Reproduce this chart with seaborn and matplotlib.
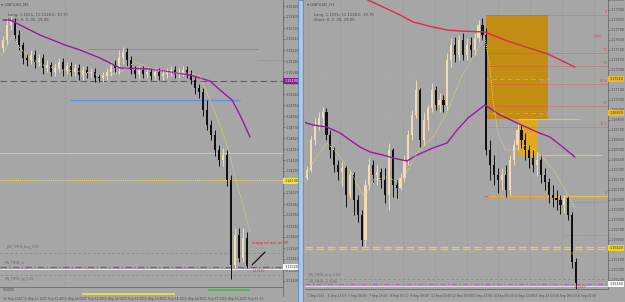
import numpy as np
import pandas as pd
import matplotlib
matplotlib.use("Agg")
import matplotlib.pyplot as plt
import matplotlib.transforms as mtrans
from matplotlib.patches import Rectangle
from matplotlib.ticker import MultipleLocator, FormatStrFormatter
import seaborn as sns

# ---------------- LEFT PANEL DATA (GBPUSD M5) ----------------
left_first_open = 1.1552
left_close = [1.1560, 1.1575, 1.1578, 1.1565, 1.1555, 1.1542, 1.1540, 1.1545, 1.1538, 1.1542,
              1.1532, 1.1535, 1.1528, 1.1532, 1.1538, 1.1530, 1.1534, 1.1528, 1.1532, 1.1525,
              1.1530, 1.1527, 1.1528, 1.1522, 1.1522, 1.1524, 1.1528, 1.1534, 1.1532, 1.1542,
              1.1548, 1.1540, 1.1530, 1.1526, 1.1530, 1.1526, 1.1528, 1.1524, 1.1528, 1.1524,
              1.1526, 1.1528, 1.1530, 1.1526, 1.1528, 1.1530, 1.1526, 1.1520, 1.1512, 1.1508,
              1.1490, 1.1475, 1.1465, 1.1450, 1.1440, 1.1445, 1.1420, 1.1335, 1.1365, 1.1342,
              1.1362, 1.1334]
left_high = [1.1564, 1.1582, 1.1584, 1.1582, 1.1570, 1.1558, 1.1546, 1.1550, 1.1550, 1.1546,
             1.1546, 1.1540, 1.1538, 1.1536, 1.1542, 1.1542, 1.1538, 1.1538, 1.1536, 1.1536,
             1.1534, 1.1534, 1.1532, 1.1532, 1.1526, 1.1528, 1.1532, 1.1538, 1.1540, 1.1550,
             1.1553, 1.1552, 1.1544, 1.1534, 1.1534, 1.1534, 1.1532, 1.1532, 1.1532, 1.1532,
             1.1530, 1.1532, 1.1534, 1.1534, 1.1532, 1.1534, 1.1534, 1.1530, 1.1524, 1.1516,
             1.1512, 1.1500, 1.1480, 1.1470, 1.1455, 1.1452, 1.1450, 1.1425, 1.1372, 1.1372,
             1.1372, 1.1368]
left_low = [1.1548, 1.1556, 1.1570, 1.1560, 1.1550, 1.1536, 1.1534, 1.1536, 1.1532, 1.1534,
            1.1526, 1.1528, 1.1524, 1.1524, 1.1528, 1.1524, 1.1526, 1.1524, 1.1524, 1.1520,
            1.1520, 1.1522, 1.1522, 1.1518, 1.1518, 1.1518, 1.1520, 1.1524, 1.1528, 1.1526,
            1.1536, 1.1534, 1.1526, 1.1522, 1.1522, 1.1522, 1.1522, 1.1520, 1.1520, 1.1520,
            1.1520, 1.1522, 1.1524, 1.1522, 1.1522, 1.1524, 1.1522, 1.1516, 1.1506, 1.1502,
            1.1484, 1.1470, 1.1460, 1.1444, 1.1434, 1.1434, 1.1414, 1.1321, 1.1330, 1.1338,
            1.1338, 1.1332]
# slow MA (purple) read at candle positions
left_ma_slow_x = [0, 1.75, 4.25, 9.25, 15.5, 19.25, 24.25, 29.25, 36.75, 41.75, 46.75, 51.75, 54.25, 57.25, 59.25, 61.75]
left_ma_slow_y = [1.1580, 1.1580, 1.1575, 1.1565, 1.1555, 1.1550, 1.1542, 1.1532, 1.1531, 1.1528, 1.1525, 1.1519, 1.1510, 1.1500, 1.1485, 1.1463]
# fast MA (yellow dotted)
left_ma_fast_x = [-0.25, 2.5, 4.25, 6.75, 10.5, 15.5, 20.5, 25.5, 29.25, 33, 36.75, 41.75, 46.75, 49.25, 50.5, 52.25, 54.25, 56.25, 58.25, 60, 61.75]
left_ma_fast_y = [1.1545, 1.1565, 1.1552, 1.1542, 1.1534, 1.1530, 1.1528, 1.1524, 1.1528, 1.1538, 1.1532, 1.1527, 1.1527, 1.1524, 1.1512, 1.1495, 1.1475, 1.1452, 1.1420, 1.1395, 1.1368]
left_levels = {"resist": 1.1551, "pivot": 1.1519, "mark": 1.1540, "support": 1.1500,
               "level1": 1.1447, "mt_sup": 1.1419, "buy": 1.1347, "sl": 1.1333, "bid": 1.1331, "tp": 1.1325}
left_time_labels = ["15 Sep 2022", "15 Sep 11:15", "15 Sep 11:40", "15 Sep 12:05", "15 Sep 12:30",
                    "15 Sep 12:55", "15 Sep 13:20", "15 Sep 13:45", "15 Sep 14:10", "15 Sep 14:35",
                    "15 Sep 15:00", "15 Sep 15:25", "15 Sep 15:50"]
left_trend_x = [62.25, 65.5]
left_trend_y = [1.1335, 1.1348]

# ---------------- RIGHT PANEL DATA (GBPUSD H1) ----------------
right_first_open = 1.1622
right_close = [1.1630, 1.1660, 1.1675, 1.1682, 1.1688, 1.1665, 1.1650, 1.1635, 1.1628, 1.1632,
               1.1605, 1.1625, 1.1600, 1.1585, 1.1560, 1.1615, 1.1635, 1.1625, 1.1628, 1.1620,
               1.1605, 1.1650, 1.1615, 1.1612, 1.1622, 1.1640, 1.1665, 1.1685, 1.1710, 1.1660,
               1.1680, 1.1692, 1.1710, 1.1695, 1.1700, 1.1695, 1.1740, 1.1755, 1.1745, 1.1760,
               1.1745, 1.1755, 1.1750, 1.1762, 1.1775, 1.1765, 1.1650, 1.1635, 1.1625, 1.1620,
               1.1625, 1.1610, 1.1640, 1.1655, 1.1670, 1.1660, 1.1650, 1.1642, 1.1635, 1.1640,
               1.1625, 1.1618, 1.1605, 1.1602, 1.1600, 1.1595, 1.1602, 1.1585, 1.1538, 1.1517]
right_high = [1.1634, 1.1664, 1.1682, 1.1688, 1.1693, 1.1692, 1.1670, 1.1653, 1.1640, 1.1638,
              1.1635, 1.1630, 1.1628, 1.1605, 1.1590, 1.1620, 1.1642, 1.1640, 1.1635, 1.1632,
              1.1632, 1.1657, 1.1652, 1.1620, 1.1627, 1.1645, 1.1670, 1.1690, 1.1720, 1.1712,
              1.1688, 1.1695, 1.1717, 1.1714, 1.1707, 1.1705, 1.1747, 1.1762, 1.1763, 1.1765,
              1.1767, 1.1762, 1.1763, 1.1767, 1.1780, 1.1782, 1.1772, 1.1660, 1.1645, 1.1632,
              1.1632, 1.1635, 1.1645, 1.1660, 1.1677, 1.1675, 1.1667, 1.1655, 1.1650, 1.1648,
              1.1645, 1.1632, 1.1622, 1.1615, 1.1610, 1.1605, 1.1605, 1.1604, 1.1588, 1.1542]
right_low = [1.1620, 1.1628, 1.1655, 1.1670, 1.1672, 1.1660, 1.1642, 1.1628, 1.1620, 1.1614,
             1.1593, 1.1602, 1.1585, 1.1578, 1.1554, 1.1554, 1.1610, 1.1618, 1.1615, 1.1612,
             1.1597, 1.1590, 1.1603, 1.1602, 1.1610, 1.1618, 1.1635, 1.1660, 1.1682, 1.1653,
             1.1655, 1.1670, 1.1688, 1.1690, 1.1688, 1.1688, 1.1690, 1.1733, 1.1738, 1.1740,
             1.1740, 1.1740, 1.1743, 1.1745, 1.1758, 1.1760, 1.1645, 1.1620, 1.1615, 1.1607,
             1.1610, 1.1603, 1.1605, 1.1635, 1.1650, 1.1652, 1.1640, 1.1632, 1.1628, 1.1624,
             1.1617, 1.1610, 1.1597, 1.1593, 1.1590, 1.1586, 1.1587, 1.1580, 1.1532, 1.1511]
right_ma_red_x = [14.8, 15.6, 19.5, 23.9, 27.2, 32.3, 35.9, 39.2, 45.6, 52.1, 61.8, 68.7]
right_ma_red_y = [1.1805, 1.1800, 1.1793, 1.1785, 1.1778, 1.1773, 1.1770, 1.1769, 1.1768, 1.1758, 1.1746, 1.1733]
right_ma_purple_x = [-1.0, 1.5, 5.1, 8.5, 11.0, 13.6, 16.2, 19.5, 22.1, 25.6, 28.2, 32.3, 35.9, 38.5, 41.3, 45.6, 49.5, 53.9, 59.0, 62.3, 65.6, 68.7]
right_ma_purple_y = [1.1678, 1.1675, 1.1673, 1.1667, 1.1660, 1.1653, 1.1648, 1.1645, 1.1642, 1.1639, 1.1645, 1.1652, 1.1657, 1.1670, 1.1682, 1.1695, 1.1685, 1.1677, 1.1668, 1.1663, 1.1653, 1.1643]
right_ma_fast_x = [-0.5, 1.5, 5.1, 7.7, 11.0, 13.6, 14.9, 16.9, 20.5, 23.8, 26.4, 28.2, 32.3, 35.9, 39.2, 42.6, 45.6, 46.9, 47.7, 49.0, 50.8, 53.3, 55.9, 58.5, 61.0, 63.6, 66.2, 68.7]
right_ma_fast_y = [1.1623, 1.1637, 1.1657, 1.1647, 1.1630, 1.1610, 1.1603, 1.1620, 1.1623, 1.1617, 1.1633, 1.1647, 1.1663, 1.1687, 1.1720, 1.1743, 1.1763, 1.1733, 1.1700, 1.1667, 1.1650, 1.1650, 1.1655, 1.1650, 1.1640, 1.1628, 1.1610, 1.1592]
right_box_big = (1.1681, 1.1785)
right_box_small = (1.1645, 1.1681)
right_fib_levels = [1.1785, 1.1747, 1.1734, 1.1716, 1.1694, 1.1673]
right_fib_labels = ["0", "T1", "T2", "61.8", "P1", "38.2"]
right_levels = {"mt_sup1": 1.1721, "mt_sup2": 1.1687, "entry": 1.1604, "sub": 1.1598, "low_mark": 1.1565,
                "mt_sup3": 1.1552, "buy": 1.1521, "sl": 1.1516}
right_time_labels = ["1 Sep 2022", "6 Sep 13:00", "7 Sep 06:00", "7 Sep 23:00", "8 Sep 16:00",
                     "9 Sep 09:00", "12 Sep 02:00", "12 Sep 19:00", "13 Sep 12:00", "14 Sep 05:00",
                     "14 Sep 22:00", "15 Sep 15:00", "16 Sep 08:00", "16 Sep 21:00"]

# ---------------- STYLE ----------------
sns.set_theme(style="white")
plt.rcParams['font.family'] = ['DejaVu Sans']
BG = '#a6a6a6'
BULL = '#f3dcb4'
BEAR = '#111111'
TXT = '#4a4a4a'
W, H = 625, 302
TICK_FS = 2.4

fig = plt.figure(figsize=(6.25, 3.02), dpi=100, facecolor=BG)


def rect(x0, y0, x1, y1):
    return [x0 / W, 1 - y1 / H, (x1 - x0) / W, (y1 - y0) / H]


axL = fig.add_axes(rect(0, 0, 283, 287))
axLs = fig.add_axes(rect(0, 288, 283, 296))
axR = fig.add_axes(rect(305, 0, 608, 289))


def draw_candles(ax, first_open, highs, lows, closes, width):
    opens = [first_open] + closes[:-1]
    df = pd.DataFrame(dict(o=opens, h=highs, l=lows, c=closes))
    df['i'] = np.arange(len(df))
    up = df.c > df.o
    for sub, col in [(df[up], BULL), (df[~up], BEAR)]:
        ax.vlines(sub.i, sub.l, sub.h, color=col, lw=0.7, zorder=4)
        body = (sub.c - sub.o).abs().clip(lower=0.00008)
        ax.bar(sub.i, body, bottom=np.minimum(sub.o, sub.c), width=width, color=col, lw=0, zorder=4)


def style_axis(ax, step):
    ax.set_facecolor(BG)
    for s in ax.spines.values():
        s.set_visible(False)
    ax.spines['right'].set_visible(True)
    ax.spines['right'].set_color('#6a6a6a')
    ax.spines['right'].set_linewidth(0.6)
    ax.spines['bottom'].set_visible(True)
    ax.spines['bottom'].set_color('#6a6a6a')
    ax.spines['bottom'].set_linewidth(0.6)
    ax.yaxis.tick_right()
    ax.yaxis.set_major_locator(MultipleLocator(step))
    ax.yaxis.set_major_formatter(FormatStrFormatter('%.5f'))
    ax.tick_params(axis='y', labelsize=TICK_FS, colors=TXT, length=1.2, width=0.4, pad=0.6)
    ax.tick_params(axis='x', bottom=False, labelbottom=False)
    ax.grid(False)


def price_box(ax, y, text, fc, tc):
    tr = mtrans.blended_transform_factory(ax.transAxes, ax.transData)
    ax.text(1.004, y, text, transform=tr, fontsize=TICK_FS, color=tc, va='center', ha='left',
            bbox=dict(boxstyle='square,pad=0.25', fc=fc, ec='none'), clip_on=False, zorder=10)


# ================= LEFT =================
style_axis(axL, 0.0011)
axL.set_xlim(-0.75, 70)
axL.set_ylim(1.1313, 1.1600)
axL.axvline(15.5, color='#8a8a8a', lw=0.5, ls=(0, (1, 2)), zorder=1)

draw_candles(axL, left_first_open, left_high, left_low, left_close, 0.55)
sns.lineplot(x=left_ma_slow_x, y=left_ma_slow_y, ax=axL, color='#9a1aa0', lw=1.0, legend=False, zorder=5)
sns.lineplot(x=left_ma_fast_x, y=left_ma_fast_y, ax=axL, color='#e2d880', lw=0.7, ls=(0, (1, 1.2)), legend=False, zorder=5)

axL.hlines(left_levels["resist"], 21.25, 63.75, color='#cc7070', lw=0.7, zorder=3)
axL.axhline(left_levels["pivot"], color='#9a3aa0', lw=0.8, ls=(0, (6, 3)), zorder=3)
axL.hlines(left_levels["mark"], 63.5, 70, color='#7e7e7e', lw=0.5, ls=(0, (1, 1)), zorder=3)
axL.hlines(left_levels["support"], 16.75, 59.25, color='#5d8ee0', lw=0.9, zorder=3)
axL.axhline(left_levels["level1"], color='#e6d050', lw=0.7, zorder=3)
axL.axhline(left_levels["mt_sup"] + 0.0001, color='#ecdc58', lw=0.7, ls=(0, (1, 1)), zorder=3)
axL.axhline(left_levels["mt_sup"], color='#c8a468', lw=0.7, ls=(0, (5, 3)), zorder=3)
axL.axhline(left_levels["buy"], color='#858585', lw=0.5, ls=(0, (4, 3)), zorder=3)
axL.axhline(left_levels["sl"], color='#a040b0', lw=0.9, ls=(0, (5, 2, 1, 2)), zorder=3)
axL.axhline(left_levels["bid"], color='#f4f4f4', lw=0.6, zorder=3)
axL.axhline(left_levels["tp"], color='#858585', lw=0.5, ls=(0, (4, 3)), zorder=3)
sns.lineplot(x=left_trend_x, y=left_trend_y, ax=axL, color='black', lw=0.8, legend=False, zorder=6)

axL.text(62.3, 1.1357, "stopped out at BE", color='#e02828', fontsize=2.9, va='center', ha='left', clip_on=False, zorder=7)
axL.text(62.5, 1.1329, "1.13310", color='#e02828', fontsize=2.2, va='center', ha='left', zorder=7)
axL.text(0.5, 1.13475 + 0.0004, "_HN_TMHL_buy_0.00", color='#6a6a6a', fontsize=2.3, va='bottom', ha='left')
axL.text(0.5, 1.1334 + 0.0002, "HN_TMHL_sl", color='#6a6a6a', fontsize=2.3, va='bottom', ha='left')
axL.text(0.5, 1.1325 - 0.0002, "HN_TMHL_tp_0.00", color='#6a6a6a', fontsize=2.3, va='top', ha='left')
axL.text(59.5, 1.1417, "MT Sup", color='#c8a060', fontsize=2.5, va='top', ha='left', zorder=7)

axL.text(0.005, 0.992, "\u25be GBPUSD_M5", transform=axL.transAxes, fontsize=2.9, color=TXT, va='top')
axL.text(0.03, 0.955, "Long: 1.1555, 11.1118.0, 19.70", transform=axL.transAxes, fontsize=2.7, color=TXT, va='top')
axL.text(0.03, 0.937, "Short: 0, 0, 00, 19.00", transform=axL.transAxes, fontsize=2.7, color=TXT, va='top')

price_box(axL, left_levels["pivot"], "1.15190", '#8a1f95', 'white')
price_box(axL, left_levels["mt_sup"], "1.14190", '#f2e040', '#333333')
price_box(axL, left_levels["sl"], "1.13320", '#f8f8f8', '#333333')

# sub window
axLs.set_facecolor(BG)
axLs.set_xlim(axL.get_xlim())
axLs.set_ylim(0, 1)
for s in axLs.spines.values():
    s.set_visible(False)
axLs.spines['right'].set_visible(True)
axLs.spines['right'].set_color('#6a6a6a')
axLs.spines['right'].set_linewidth(0.6)
axLs.set_yticks([])
axLs.hlines(0.25, 19.75, 43, color='#e2e044', lw=1.4)
axLs.hlines(0.75, 51.25, 61.75, color='#44c044', lw=1.4)
axLs.text(0.01, 0.95, "0.0000", transform=axLs.transAxes, fontsize=2.4, color=TXT, va='top')
axLs.set_xticks(np.arange(0, 65, 5), left_time_labels)
axLs.tick_params(axis='x', labelsize=2.2, colors=TXT, length=0, pad=1.0)
for lab in axLs.get_xticklabels():
    lab.set_ha('left')

# ================= RIGHT =================
style_axis(axR, 0.0010)
axR.set_xlim(-0.51, 77.2)
axR.set_ylim(1.1511, 1.1800)
for gx in [0.26, 8.46, 16.67, 24.6, 32.8, 41.0, 49.0, 57.2, 65.4, 73.6]:
    axR.axvline(gx, color='#8a8a8a', lw=0.5, ls=(0, (1, 2)), zorder=1)

axR.add_patch(Rectangle((45.9, right_box_big[0]), 61.8 - 45.9, right_box_big[1] - right_box_big[0],
                        fc='#c28d12', ec='none', zorder=2))
axR.add_patch(Rectangle((54.1, right_box_small[0]), 59.2 - 54.1, right_box_small[1] - right_box_small[0],
                        fc='#e0a820', ec='none', zorder=2))
axR.hlines(right_box_small[1], 54.1, 70, color='#e8c840', lw=0.8, zorder=3)
axR.hlines(right_box_small[0], 59.2, 75.6, color='#e8c840', lw=0.8, zorder=3)

for lv, lab in zip(right_fib_levels, right_fib_labels):
    axR.hlines(lv, 45.9, 77.2, color='#e04848', lw=0.5, ls=(0, (1, 1.2)), zorder=3)
    axR.text(76.9, lv + 0.0003, lab, color='#e04848', fontsize=2.4, ha='right', va='center', zorder=7)
axR.text(74.6, 1.1764, "Spm", color='#e04848', fontsize=2.7, ha='center', va='center', zorder=7)

axR.axhline(right_levels["mt_sup1"], color='#c8a468', lw=0.7, ls=(0, (5, 3)), zorder=3)
axR.axhline(right_levels["mt_sup2"], color='#c8a468', lw=0.7, ls=(0, (5, 3)), zorder=3)
axR.text(59.7, right_levels["mt_sup1"] - 0.0001, "MT Sup", color='#c8a060', fontsize=2.5, va='top', ha='left', zorder=7)
axR.text(59.7, right_levels["mt_sup2"] - 0.0001, "MT Sup", color='#c8a060', fontsize=2.5, va='top', ha='left', zorder=7)

axR.hlines(right_levels["entry"], 46.2, 77.2, color='#e8c840', lw=0.9, zorder=3)
axR.hlines(right_levels["entry"], 46.0, 64.0, color='#f09020', lw=0.9, ls=(0, (1, 1)), zorder=3)
axR.hlines(right_levels["entry"], 45.5, 46.5, color='#e06060', lw=0.9, zorder=3)
axR.hlines(right_levels["sub"], 65.7, 76.5, color='#8c8c8c', lw=0.5, ls=(0, (1, 1)), zorder=3)
axR.hlines(right_levels["low_mark"], 66.0, 76.5, color='#8c8c8c', lw=0.5, ls=(0, (1, 1)), zorder=3)
axR.text(76.9, right_levels["entry"] + 0.0003, "0", color='#e04848', fontsize=2.3, ha='right', va='center')

axR.axhline(right_levels["mt_sup3"] + 0.0001, color='#e8d040', lw=0.9, ls=(0, (6, 3)), zorder=3)
axR.axhline(right_levels["mt_sup3"] - 0.0001, color='#e8d040', lw=0.9, ls=(0, (6, 3)), zorder=3)
axR.text(66.2, right_levels["mt_sup3"] - 0.0004, "MT Sup", color='#c8a060', fontsize=2.5, va='top', ha='left', zorder=7)
axR.axhline(right_levels["buy"], color='#858585', lw=0.5, ls=(0, (4, 3)), zorder=3)
axR.axhline(right_levels["sl"], color='#c060c8', lw=0.9, ls=(0, (4, 2, 1, 2)), zorder=3)
axR.axhline(right_levels["sl"] - 0.00015, color='#f4f4f4', lw=0.5, zorder=3)
axR.text(0.5, right_levels["buy"] + 0.0002, "HN_TMHL_buy_0.00", color='#6a6a6a', fontsize=2.3, va='bottom', ha='left')
axR.text(0.5, right_levels["sl"] + 0.0001, "HN_TMHL_sl_0.00", color='#6a6a6a', fontsize=2.3, va='bottom', ha='left')
axR.text(68.5, 1.1513, "1.15160", color='#e02828', fontsize=2.2, va='center', ha='left', zorder=7)

draw_candles(axR, right_first_open, right_high, right_low, right_close, 0.55)
sns.lineplot(x=right_ma_red_x, y=right_ma_red_y, ax=axR, color='#e02850', lw=1.0, legend=False, zorder=5)
sns.lineplot(x=right_ma_purple_x, y=right_ma_purple_y, ax=axR, color='#9a1aa0', lw=1.0, legend=False, zorder=5)
sns.lineplot(x=right_ma_fast_x, y=right_ma_fast_y, ax=axR, color='#e2d880', lw=0.7, ls=(0, (1, 1.2)), legend=False, zorder=5)

axR.text(0.007, 0.992, "\u25be GBPUSD_H1", transform=axR.transAxes, fontsize=2.9, color=TXT, va='top')
axR.text(0.03, 0.955, "Long: 1.1555, 11.1118.0, 19.70", transform=axR.transAxes, fontsize=2.7, color=TXT, va='top')
axR.text(0.03, 0.937, "Short: 0, 0, 00, 19.00", transform=axR.transAxes, fontsize=2.7, color=TXT, va='top')

price_box(axR, right_levels["mt_sup1"], "1.17210", '#e8b830', '#333333')
price_box(axR, right_levels["mt_sup2"], "1.16870", '#e8b830', '#333333')
price_box(axR, right_levels["mt_sup3"], "1.15520", '#f0d020', '#333333')
price_box(axR, right_levels["sl"], "1.15160", '#f8f8f8', '#333333')

axR.set_xticks(np.arange(0, 14) * 5.3, right_time_labels)
axR.tick_params(axis='x', bottom=False, labelbottom=True, labelsize=2.2, colors=TXT, length=0, pad=3.5)
for lab in axR.get_xticklabels():
    lab.set_ha('left')

# divider between the two charts
fig.patches.append(Rectangle((298 / W, 0), 5 / W, 1, transform=fig.transFigure,
                             fc='#a9c8e6', ec='#4f7fb0', lw=0.5, zorder=0))

fig.savefig("out.png", dpi=100, facecolor=BG)
